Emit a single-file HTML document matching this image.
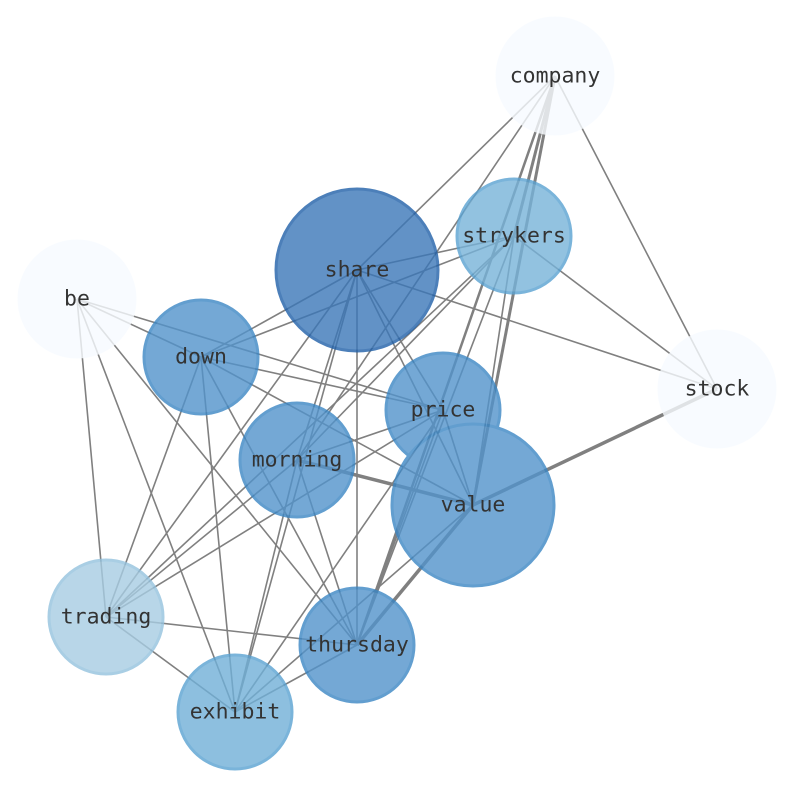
<!DOCTYPE html>
<html><head><meta charset="utf-8"><style>
html,body{margin:0;padding:0;background:#fff;width:794px;height:790px;overflow:hidden}
text{font-family:"DejaVu Sans Mono","Liberation Mono",monospace;font-size:21.5px;fill:#333;text-anchor:middle;dominant-baseline:central}
</style></head><body>
<svg width="794" height="790" xmlns="http://www.w3.org/2000/svg">
<g stroke="#808080" stroke-width="1.6" fill="none">
<line x1="555" y1="76" x2="357" y2="270"/>
<line x1="555" y1="76" x2="297" y2="460"/>
<line x1="555" y1="76" x2="514" y2="236" stroke-width="3"/>
<line x1="555" y1="76" x2="473" y2="505" stroke-width="3"/>
<line x1="555" y1="76" x2="357" y2="645" stroke-width="2.5"/>
<line x1="555" y1="76" x2="717" y2="389"/>
<line x1="514" y1="236" x2="357" y2="270"/>
<line x1="514" y1="236" x2="201" y2="357"/>
<line x1="514" y1="236" x2="297" y2="460"/>
<line x1="514" y1="236" x2="106" y2="617"/>
<line x1="514" y1="236" x2="473" y2="505"/>
<line x1="514" y1="236" x2="357" y2="645"/>
<line x1="514" y1="236" x2="717" y2="389"/>
<line x1="357" y1="270" x2="201" y2="357"/>
<line x1="357" y1="270" x2="297" y2="460"/>
<line x1="357" y1="270" x2="235" y2="712"/>
<line x1="357" y1="270" x2="357" y2="645"/>
<line x1="357" y1="270" x2="443" y2="410"/>
<line x1="357" y1="270" x2="473" y2="505"/>
<line x1="357" y1="270" x2="717" y2="389"/>
<line x1="357" y1="270" x2="106" y2="617"/>
<line x1="77" y1="299" x2="201" y2="357"/>
<line x1="77" y1="299" x2="443" y2="410"/>
<line x1="77" y1="299" x2="357" y2="645"/>
<line x1="77" y1="299" x2="235" y2="712"/>
<line x1="77" y1="299" x2="106" y2="617"/>
<line x1="201" y1="357" x2="443" y2="410"/>
<line x1="201" y1="357" x2="473" y2="505"/>
<line x1="201" y1="357" x2="357" y2="645"/>
<line x1="201" y1="357" x2="235" y2="712"/>
<line x1="201" y1="357" x2="106" y2="617"/>
<line x1="297" y1="460" x2="473" y2="505" stroke-width="3.5"/>
<line x1="297" y1="460" x2="443" y2="410"/>
<line x1="297" y1="460" x2="357" y2="645"/>
<line x1="297" y1="460" x2="235" y2="712"/>
<line x1="297" y1="460" x2="106" y2="617"/>
<line x1="443" y1="410" x2="106" y2="617"/>
<line x1="443" y1="410" x2="357" y2="645"/>
<line x1="443" y1="410" x2="473" y2="505"/>
<line x1="443" y1="410" x2="235" y2="712"/>
<line x1="473" y1="505" x2="717" y2="389" stroke-width="3.5"/>
<line x1="473" y1="505" x2="357" y2="645" stroke-width="3.5"/>
<line x1="473" y1="505" x2="235" y2="712"/>
<line x1="106" y1="617" x2="357" y2="645"/>
<line x1="106" y1="617" x2="235" y2="712"/>
<line x1="357" y1="645" x2="235" y2="712"/>
</g>
<g stroke-width="3" opacity="0.8">
<circle cx="555" cy="76" r="58" fill="#f7fbff" stroke="#f7fbff"/>
<circle cx="77" cy="299" r="58" fill="#f7fbff" stroke="#f7fbff"/>
<circle cx="717" cy="389" r="58" fill="#f7fbff" stroke="#f7fbff"/>
<circle cx="514" cy="236" r="57" fill="#77b3d9" stroke="#5aa2d2"/>
<circle cx="357" cy="270" r="81" fill="#3b77b8" stroke="#2060a8"/>
<circle cx="201" cy="357" r="57" fill="#5293cb" stroke="#3b86c4"/>
<circle cx="443" cy="410" r="57" fill="#5293cb" stroke="#3b86c4"/>
<circle cx="297" cy="460" r="57" fill="#5293cb" stroke="#3b86c4"/>
<circle cx="473" cy="505" r="81" fill="#5293cb" stroke="#3b86c4"/>
<circle cx="106" cy="617" r="57" fill="#a7cde3" stroke="#94c2de"/>
<circle cx="357" cy="645" r="57" fill="#5293cb" stroke="#3b86c4"/>
<circle cx="235" cy="712" r="57" fill="#71b0d8" stroke="#5aa2d2"/>
</g>
<text x="555" y="76">company</text>
<text x="514" y="236">strykers</text>
<text x="357" y="270">share</text>
<text x="77" y="299">be</text>
<text x="201" y="357">down</text>
<text x="443" y="410">price</text>
<text x="717" y="389">stock</text>
<text x="297" y="460">morning</text>
<text x="473" y="505">value</text>
<text x="106" y="617">trading</text>
<text x="357" y="645">thursday</text>
<text x="235" y="712">exhibit</text>
</svg>
</body></html>
